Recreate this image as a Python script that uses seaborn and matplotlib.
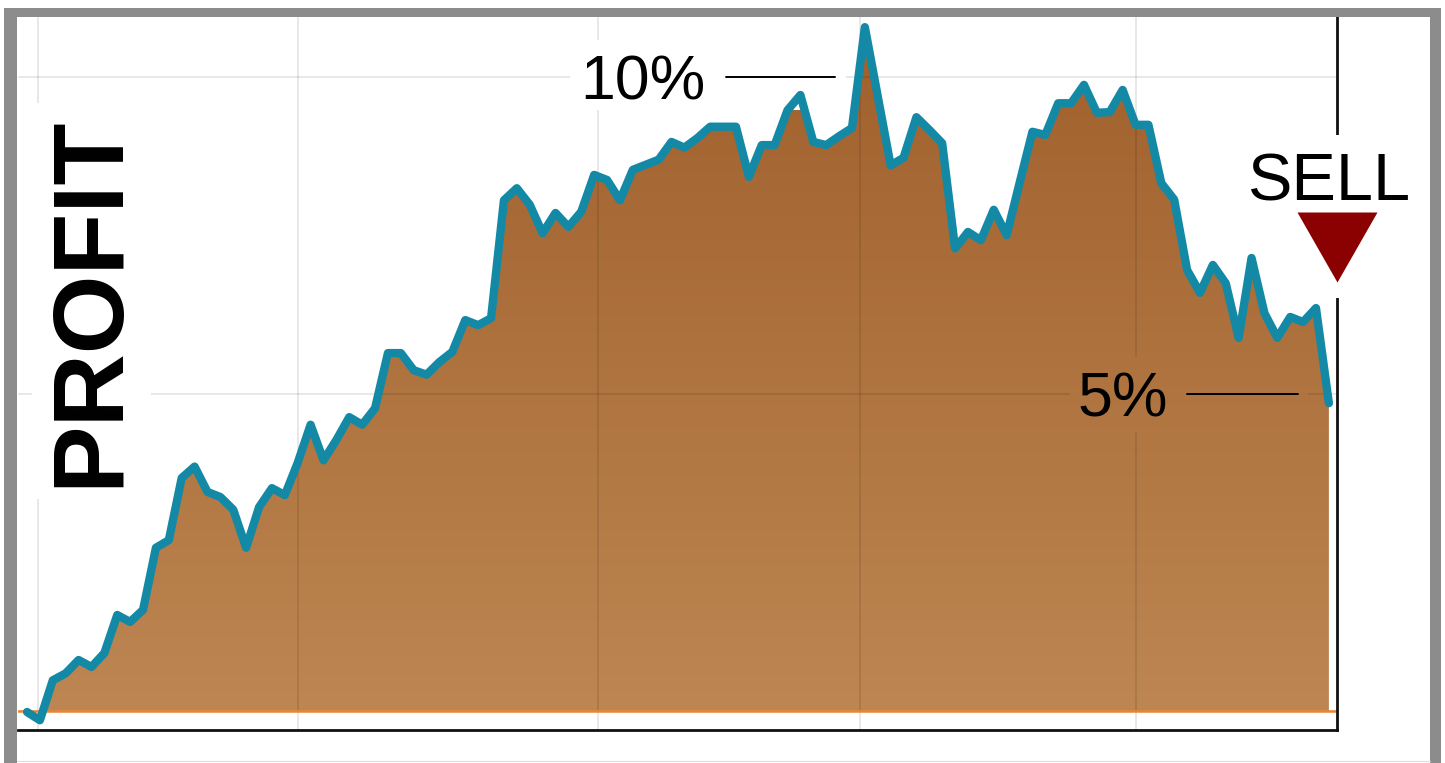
import numpy as np
import matplotlib
matplotlib.use("Agg")
import matplotlib.pyplot as plt
import seaborn as sns
from matplotlib.colors import LinearSegmentedColormap
from matplotlib.path import Path
from matplotlib.patches import Rectangle
from matplotlib.lines import Line2D
import matplotlib.transforms as mtransforms

# ---------------- data ----------------
days = list(range(102))  # trading-day index
profit = [-0.02, -0.15, 0.48, 0.59, 0.80, 0.69, 0.91, 1.51, 1.40, 1.59,
          2.57, 2.69, 3.67, 3.85, 3.45, 3.37, 3.17, 2.57, 3.21, 3.51,
          3.40, 3.91, 4.51, 3.95, 4.27, 4.63, 4.51, 4.77, 5.64, 5.64,
          5.37, 5.30, 5.50, 5.66, 6.16, 6.08, 6.19, 8.05, 8.24, 7.98,
          7.53, 7.85, 7.63, 7.87, 8.45, 8.37, 8.05, 8.53, 8.61, 8.69,
          8.97, 8.88, 9.03, 9.21, 9.21, 9.21, 8.42, 8.92, 8.92, 9.47,
          9.71, 8.97, 8.92, 9.06, 9.19, 10.78, 9.69, 8.60, 8.72, 9.36,
          9.16, 8.95, 7.29, 7.55, 7.42, 7.90, 7.50, 8.32, 9.13, 9.08,
          9.58, 9.58, 9.87, 9.43, 9.44, 9.79, 9.24, 9.24, 8.32, 8.06,
          6.95, 6.59, 7.03, 6.74, 5.88, 7.14, 6.27, 5.88, 6.21, 6.13,
          6.35, 4.85]
month_starts = [0.85, 21.0, 44.3, 64.6, 86.0]   # month boundaries (trading days)
level_values = [10, 5]
level_labels = ["10%", "5%"]
title = "PROFIT"
signal = "SELL"

# ---------------- style ----------------
sns.set_theme(style="white")
plt.rcParams['font.family'] = ['Liberation Sans', 'DejaVu Sans']

LINE_C = '#1489a6'
TOP_C = '#a0602c'
BOT_C = '#bd8652'
BASE_C = '#ea842e'

W, H, DPI = 1445, 763, 100
fig = plt.figure(figsize=(W / DPI, H / DPI), dpi=DPI)
fig.patch.set_facecolor('white')
ax = fig.add_axes([18 / W, 1 - 730 / H, (1337 - 18) / W, (730 - 17) / H])

# gradient area fill clipped to the area under the curve
cmap = LinearSegmentedColormap.from_list('profit_grad', [BOT_C, TOP_C])
ymax = max(profit)
grad = np.linspace(0, 1, 256).reshape(-1, 1)
im_kw = dict(cmap=cmap, origin='lower', aspect='auto',
             extent=[days[0], days[-1], 0, ymax], interpolation='bilinear')
im = ax.imshow(grad, zorder=1, **im_kw)
p_arr = np.array(profit)
poly = ax.fill_between(days, profit, 0, where=p_arr >= 0, interpolate=True,
                       facecolor='none', edgecolor='none')
clip = Path.make_compound_path(*poly.get_paths())
im.set_clip_path(clip, transform=ax.transData)

# baseline
ax.axhline(0, color=BASE_C, lw=1.8, zorder=2)

# main line
sns.lineplot(x=days, y=profit, ax=ax, color=LINE_C, linewidth=6,
             solid_joinstyle='round', solid_capstyle='round', zorder=3)

ax.set_xlim(-0.70, 101.63)
ax.set_ylim(-0.304, 10.94)
ax.set_xticks(month_starts)
ax.set_yticks([0] + level_values)
ax.tick_params(length=0, labelbottom=False, labelleft=False)
ax.set_xlabel('')
ax.set_ylabel('')
ax.grid(True, color='black', alpha=0.11, linewidth=1.2)
ax.set_axisbelow('line')

for side in ['left', 'top']:
    ax.spines[side].set_visible(False)
for side in ['right', 'bottom']:
    ax.spines[side].set_visible(True)
    ax.spines[side].set_color('#111111')
    ax.spines[side].set_linewidth(2.0)

# PROFIT title
ax.text(5.0, 6.46, title, rotation=90, ha='center', va='center',
        fontsize=73, fontweight='bold', color='black', zorder=1.6,
        bbox=dict(facecolor='white', edgecolor='none', boxstyle='square,pad=0.12'))

# 10% label: white knock-out box, text and leader line
ax.add_patch(Rectangle((42.1, 9.47), 63.5 - 42.1, 10.58 - 9.47,
                       facecolor='white', edgecolor='none', zorder=1.6))
ax.text(52.6, level_values[0], level_labels[0], ha='right', va='center_baseline',
        fontsize=45, color='black', zorder=1.7)
ax.plot([54.2, 62.7], [level_values[0]] * 2, color='black', lw=1.4, zorder=1.7)

# 5% label: knock-out box filled with the same gradient (hides grid lines)
x0, x1, y0, y1 = 80.9, 99.4, 4.40, 5.58
im2 = ax.imshow(grad, zorder=1.6, **im_kw)
box_path = Path([(x0, y0), (x1, y0), (x1, y1), (x0, y1), (x0, y0)], closed=True)
im2.set_clip_path(box_path, transform=ax.transData)
ax.text(88.5, level_values[1], level_labels[1], ha='right', va='center_baseline',
        fontsize=45, color='black', zorder=1.7)
ax.plot([90.0, 98.6], [level_values[1]] * 2, color='black', lw=1.4, zorder=1.7)

ax.set_xlim(-0.70, 101.63)
ax.set_ylim(-0.304, 10.94)

# SELL signal
blend = mtransforms.blended_transform_factory(ax.transAxes, ax.transData)
ax.add_patch(Rectangle((0.987, 6.51), 0.027, 9.08 - 6.51, transform=blend,
                       facecolor='white', edgecolor='none', zorder=2.6, clip_on=False))
ax.text(days[-1], 8.42, signal, ha='center', va='center_baseline',
        fontsize=48, color='black', zorder=5, clip_on=False)
tri = [(-40, 35), (40, 35), (0, -35)]
ax.plot([1.0], [7.31], transform=blend, marker=tri, markersize=57.6,
        color='#8b0000', markeredgewidth=0, linestyle='none',
        clip_on=False, zorder=5)

# outer grey frame (left, top, right bands)
GRAY = '#8c8c8c'
fig.add_artist(Rectangle((4 / W, 0), 12.7 / W, 1 - 8 / H, transform=fig.transFigure,
                         facecolor=GRAY, edgecolor='none', zorder=10))
fig.add_artist(Rectangle((4 / W, 1 - 17 / H), (1441 - 4) / W, 9 / H, transform=fig.transFigure,
                         facecolor=GRAY, edgecolor='none', zorder=10))
fig.add_artist(Rectangle((1430 / W, 0), 11 / W, 1 - 8 / H, transform=fig.transFigure,
                         facecolor=GRAY, edgecolor='none', zorder=10))
fig.add_artist(Line2D([16.7 / W, 1430 / W], [1 - 760.5 / H, 1 - 760.5 / H],
                      transform=fig.transFigure, color='#dddddd', lw=0.8, zorder=10))

fig.savefig('out.png', dpi=DPI, facecolor='white')
